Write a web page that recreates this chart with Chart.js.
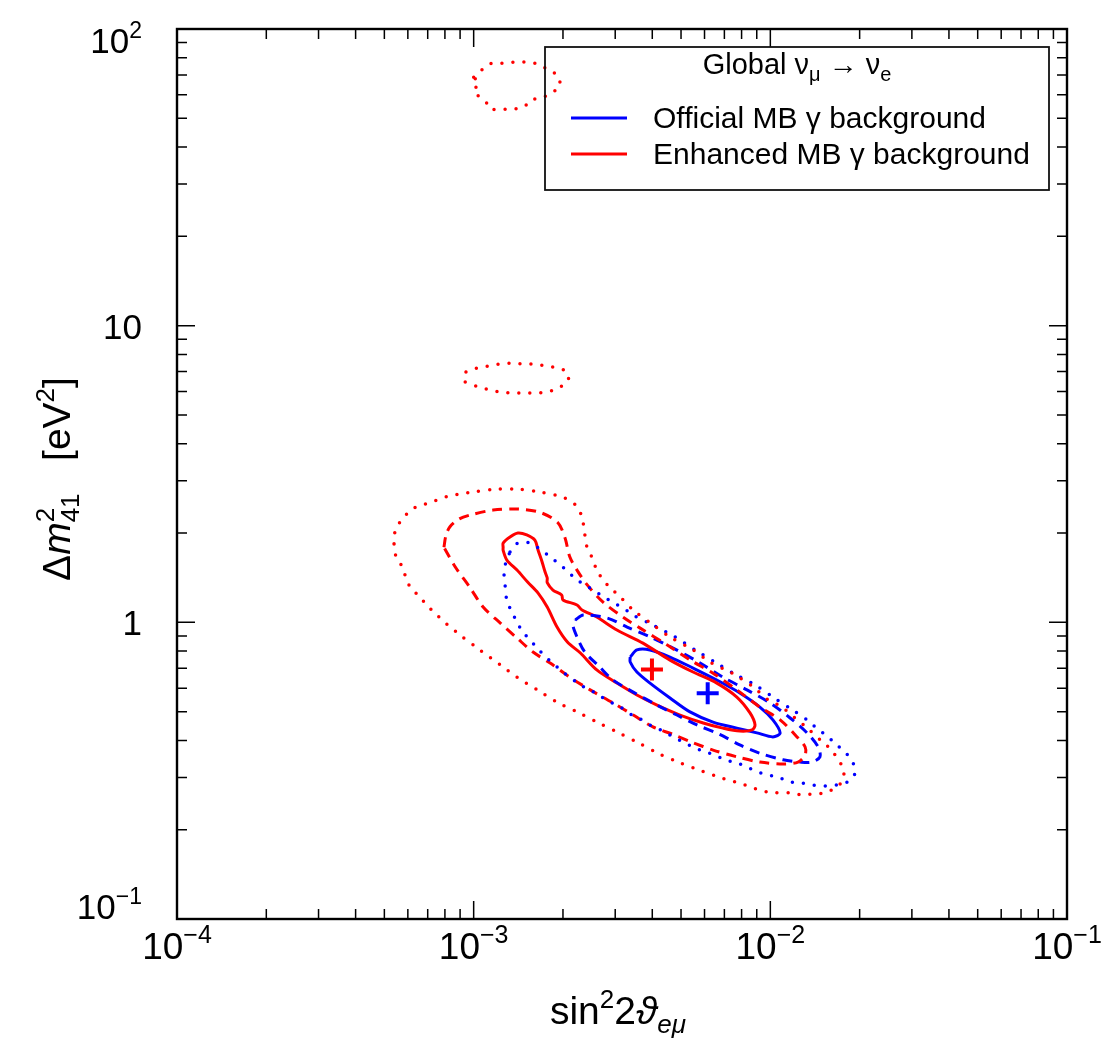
<!DOCTYPE html>
<html>
<head>
<meta charset="utf-8">
<title>Global nu_mu to nu_e</title>
<script src="https://cdn.jsdelivr.net/npm/chart.js@4.4.1/dist/chart.umd.min.js"></script>
<style>
    html, body { margin: 0; padding: 0; background: #fff; }
    #wrap { position: relative; width: 1101px; height: 1057px; }
</style>
</head>
<body>
<div id="wrap"><canvas id="contourChart"></canvas></div>
<script>
// Axis ranges and tick labels
const xTicks = [1e-4, 1e-3, 1e-2, 1e-1];
const xTickText = [['10', '−4'], ['10', '−3'], ['10', '−2'], ['10', '−1']];
const yTicks = [0.1, 1, 10, 100];
const yTickText = [['10', '−1'], ['1', ''], ['10', ''], ['10', '2']];

// Best fit points
const bestFitOfficial = [6.15e-3, 0.577];
const bestFitEnhanced = [3.99e-3, 0.694];

// Official MB gamma background (blue) contours: [sin^2 2theta, dm^2]
const blueSolid = [[3.37e-3, 0.764], [3.55e-3, 0.807], [3.93e-3, 0.807], [4.59e-3, 0.764], [5.49e-3, 0.701],
    [6.60e-3, 0.639], [7.89e-3, 0.578], [9.22e-3, 0.518], [1.02e-2, 0.469], [1.079e-2, 0.424], [1.02e-2, 0.411],
    [9.01e-3, 0.424], [7.71e-3, 0.440], [6.41e-3, 0.461], [5.36e-3, 0.499], [4.59e-3, 0.556], [3.93e-3, 0.624],
    [3.55e-3, 0.680], [3.37e-3, 0.735]];

const blueDashed = [[2.20e-3, 1.018], [2.34e-3, 1.058], [2.82e-3, 1.034], [3.29e-3, 0.964], [3.93e-3, 0.893],
    [4.70e-3, 0.819], [5.80e-3, 0.729], [6.92e-3, 0.653], [8.34e-3, 0.592], [9.97e-3, 0.535], [1.166e-2, 0.476],
    [1.33e-2, 0.424], [1.45e-2, 0.380], [1.47e-2, 0.352], [1.38e-2, 0.338], [1.26e-2, 0.338], [1.104e-2, 0.344],
    [9.22e-3, 0.362], [7.89e-3, 0.386], [6.75e-3, 0.419], [5.66e-3, 0.451], [4.84e-3, 0.487], [4.15e-3, 0.526],
    [3.45e-3, 0.582], [2.95e-3, 0.639], [2.66e-3, 0.707], [2.37e-3, 0.794], [2.23e-3, 0.893], [2.16e-3, 0.979]];

const blueDotted = [[1.326e-3, 1.725], [1.41e-3, 1.85], [1.55e-3, 1.85], [1.67e-3, 1.766], [1.795e-3, 1.673],
    [1.92e-3, 1.585], [2.07e-3, 1.489], [2.21e-3, 1.40], [2.37e-3, 1.336], [2.56e-3, 1.275], [2.75e-3, 1.217],
    [2.97e-3, 1.162], [3.23e-3, 1.109], [3.45e-3, 1.058], [4.02e-3, 0.979], [4.77e-3, 0.893], [5.58e-3, 0.807],
    [6.50e-3, 0.735], [7.59e-3, 0.669], [8.88e-3, 0.615], [1.02e-2, 0.560], [1.19e-2, 0.506], [1.33e-2, 0.469],
    [1.43e-2, 0.440], [1.565e-2, 0.411], [1.69e-2, 0.383], [1.80e-2, 0.362], [1.90e-2, 0.336], [1.93e-2, 0.310],
    [1.82e-2, 0.290], [1.68e-2, 0.283], [1.53e-2, 0.281], [1.39e-2, 0.283], [1.28e-2, 0.287], [1.166e-2, 0.290],
    [1.06e-2, 0.301], [9.83e-3, 0.306], [9.08e-3, 0.313], [8.34e-3, 0.325], [7.71e-3, 0.336], [7.04e-3, 0.344],
    [6.50e-3, 0.357], [6.02e-3, 0.366], [5.49e-3, 0.380], [5.08e-3, 0.395], [4.70e-3, 0.411], [4.35e-3, 0.430],
    [3.99e-3, 0.447], [3.69e-3, 0.469], [3.42e-3, 0.487], [3.16e-3, 0.514], [2.93e-3, 0.535], [2.70e-3, 0.560],
    [2.47e-3, 0.592], [2.29e-3, 0.615], [2.00e-3, 0.680], [1.88e-3, 0.718], [1.75e-3, 0.764], [1.649e-3, 0.813],
    [1.55e-3, 0.872], [1.466e-3, 0.927], [1.40e-3, 1.00], [1.347e-3, 1.083], [1.295e-3, 1.18], [1.276e-3, 1.336],
    [1.266e-3, 1.466], [1.285e-3, 1.597]];

// Enhanced MB gamma background (red) contours
const redSolid = [[1.257e-3, 1.79], [1.257e-3, 1.85], [1.326e-3, 1.94], [1.41e-3, 2.00], [1.51e-3, 1.97],
    [1.61e-3, 1.89], [1.649e-3, 1.75], [1.70e-3, 1.60], [1.74e-3, 1.48], [1.77e-3, 1.41], [1.77e-3, 1.36],
    [1.85e-3, 1.285], [1.98e-3, 1.236], [2.00e-3, 1.19], [2.23e-3, 1.144], [2.32e-3, 1.10], [2.60e-3, 1.042],
    [3.04e-3, 0.942], [3.72e-3, 0.851], [4.59e-3, 0.746], [5.49e-3, 0.680], [6.60e-3, 0.624], [7.71e-3, 0.560],
    [8.54e-3, 0.495], [8.88e-3, 0.451], [8.68e-3, 0.434], [7.89e-3, 0.430], [6.92e-3, 0.440], [5.94e-3, 0.458],
    [4.96e-3, 0.487], [4.15e-3, 0.526], [3.55e-3, 0.569], [3.04e-3, 0.624], [2.60e-3, 0.691], [2.29e-3, 0.788],
    [2.07e-3, 0.858], [1.91e-3, 0.964], [1.77e-3, 1.126], [1.649e-3, 1.255], [1.52e-3, 1.367], [1.40e-3, 1.50],
    [1.294e-3, 1.622], [1.257e-3, 1.75]];

const redDashed = [[7.94e-4, 1.79], [8.07e-4, 1.97], [8.32e-4, 2.10], [8.93e-4, 2.23], [9.72e-4, 2.30],
    [1.163e-3, 2.39], [1.40e-3, 2.41], [1.67e-3, 2.35], [1.92e-3, 2.17], [2.03e-3, 1.93], [2.11e-3, 1.66],
    [2.23e-3, 1.50], [2.41e-3, 1.34], [2.73e-3, 1.17], [3.19e-3, 1.04], [3.64e-3, 0.956], [4.48e-3, 0.840],
    [5.36e-3, 0.747], [6.41e-3, 0.674], [7.71e-3, 0.592], [9.22e-3, 0.518], [1.079e-2, 0.469], [1.23e-2, 0.411],
    [1.31e-2, 0.380], [1.31e-2, 0.357], [1.24e-2, 0.338], [1.104e-2, 0.333], [9.22e-3, 0.338], [7.71e-3, 0.352],
    [6.41e-3, 0.371], [5.49e-3, 0.393], [4.70e-3, 0.419], [4.02e-3, 0.444], [3.45e-3, 0.487], [2.95e-3, 0.535],
    [2.47e-3, 0.592], [2.11e-3, 0.653], [1.81e-3, 0.729], [1.585e-3, 0.794], [1.40e-3, 0.885], [1.23e-3, 0.994],
    [1.076e-3, 1.126], [9.72e-4, 1.31], [8.66e-4, 1.54]];

const redDotted = [[5.39e-4, 1.84], [5.43e-4, 2.02], [5.65e-4, 2.18], [6.01e-4, 2.34], [6.44e-4, 2.46],
    [7.02e-4, 2.52], [7.64e-4, 2.60], [8.32e-4, 2.67], [9.06e-4, 2.71], [9.87e-4, 2.75], [1.20e-3, 2.81],
    [1.41e-3, 2.81], [1.67e-3, 2.75], [2.00e-3, 2.64], [2.20e-3, 2.49], [2.29e-3, 2.34], [2.34e-3, 2.16],
    [2.41e-3, 1.79], [2.51e-3, 1.65], [2.60e-3, 1.50], [2.73e-3, 1.39], [2.88e-3, 1.31], [3.12e-3, 1.217],
    [3.45e-3, 1.10], [3.99e-3, 0.987], [4.59e-3, 0.893], [5.49e-3, 0.807], [6.26e-3, 0.735], [7.43e-3, 0.674],
    [8.75e-3, 0.606], [9.83e-3, 0.548], [1.095e-2, 0.518], [1.21e-2, 0.476], [1.32e-2, 0.444], [1.50e-2, 0.395],
    [1.61e-2, 0.371], [1.69e-2, 0.344], [1.76e-2, 0.323], [1.76e-2, 0.294], [1.67e-2, 0.279], [1.53e-2, 0.266],
    [1.39e-2, 0.264], [1.28e-2, 0.262], [1.166e-2, 0.266], [9.75e-3, 0.268], [8.21e-3, 0.283], [6.92e-3, 0.298],
    [5.89e-3, 0.315], [4.96e-3, 0.336], [4.18e-3, 0.362], [3.58e-3, 0.393], [3.04e-3, 0.427], [2.60e-3, 0.461],
    [2.23e-3, 0.499], [1.91e-3, 0.538], [1.64e-3, 0.592], [1.40e-3, 0.653], [1.23e-3, 0.718], [1.05e-3, 0.807],
    [9.00e-4, 0.906], [8.45e-4, 0.956], [7.88e-4, 1.01], [7.41e-4, 1.075], [6.96e-4, 1.14], [6.54e-4, 1.23],
    [6.15e-4, 1.30], [5.92e-4, 1.41], [5.74e-4, 1.54], [5.47e-4, 1.67]];

const redIslandMid = [[0.942e-3, 6.98], [1.026e-3, 7.20], [1.117e-3, 7.31], [1.217e-3, 7.42], [1.336e-3, 7.48],
    [1.466e-3, 7.42], [1.597e-3, 7.42], [1.753e-3, 7.31], [1.909e-3, 7.20], [2.063e-3, 6.98], [2.079e-3, 6.51],
    [1.924e-3, 6.16], [1.766e-3, 5.97], [1.622e-3, 5.93], [1.477e-3, 5.93], [1.357e-3, 5.93], [1.236e-3, 5.97],
    [1.135e-3, 6.07], [1.042e-3, 6.21], [0.957e-3, 6.41], [0.927e-3, 6.51]];

const redIslandTop = [[1.00e-3, 68.8], [1.075e-3, 73.3], [1.153e-3, 76.7], [1.255e-3, 76.7], [1.378e-3, 77.3],
    [1.501e-3, 77.3], [1.647e-3, 76.2], [1.766e-3, 73.3], [1.909e-3, 69.9], [1.954e-3, 64.2], [1.822e-3, 60.8],
    [1.686e-3, 58.5], [1.548e-3, 57.6], [1.489e-3, 55.0], [1.367e-3, 53.7], [1.246e-3, 53.7], [1.144e-3, 53.7],
    [1.117e-3, 55.8], [1.058e-3, 58.5], [1.00e-3, 61.8], [1.042e-3, 65.7]];

const legendLabels = ['Official MB γ background', 'Enhanced MB γ background'];

const BLUE = '#0000ff';
const RED = '#ff0000';
const FONT = '"Liberation Sans", Arial, Helvetica, sans-serif';

// Build a closed contour dataset
function contour(points, color, style) {
    const data = points.concat([points[0]]).map(p => ({ x: p[0], y: p[1] }));
    return {
        data: data,
        showLine: true,
        fill: false,
        borderColor: color,
        borderWidth: style === 'dotted' ? 3.5 : 3,
        borderDash: style === 'dotted' ? [0, 11] : (style === 'dashed' ? [10, 7] : []),
        borderCapStyle: style === 'dotted' ? 'round' : 'butt',
        borderJoinStyle: 'round',
        pointRadius: 0,
        tension: 0.3
    };
}

function marker(p, color) {
    return {
        data: [{ x: p[0], y: p[1] }],
        showLine: false,
        pointStyle: 'cross',
        pointRadius: 11,
        borderWidth: 4,
        borderColor: color,
        backgroundColor: color
    };
}

function font(size, italic) {
    return (italic ? 'italic ' : '') + size + 'px ' + FONT;
}

// runs: [text, size, raise, italic, noAdvance]
function drawRuns(ctx, runs, x, y, align) {
    let w = 0;
    runs.forEach(r => {
        ctx.font = font(r[1], r[3]);
        if (!r[4]) w += ctx.measureText(r[0]).width;
    });
    let cx = align === 'center' ? x - w / 2 : (align === 'right' ? x - w : x);
    ctx.textAlign = 'left';
    ctx.textBaseline = 'alphabetic';
    runs.forEach(r => {
        ctx.font = font(r[1], r[3]);
        ctx.fillText(r[0], cx, y - r[2]);
        if (!r[4]) cx += ctx.measureText(r[0]).width;
    });
}

// Frame, inward ticks, labels and legend
const framePlugin = {
    id: 'frame',
    afterDraw(chart) {
        const ctx = chart.ctx;
        const a = chart.chartArea;
        const xs = chart.scales.x;
        const ys = chart.scales.y;
        ctx.save();
        ctx.strokeStyle = '#000';
        ctx.fillStyle = '#000';

        // inward ticks on all four sides
        ctx.lineWidth = 1.5;
        for (let e = -4; e <= -1; e++) {
            for (let m = 1; m <= 9; m++) {
                if (e === -1 && m > 1) break;
                const px = xs.getPixelForValue(m * Math.pow(10, e));
                const len = m === 1 ? 18 : 10;
                ctx.beginPath();
                ctx.moveTo(px, a.bottom); ctx.lineTo(px, a.bottom - len);
                ctx.moveTo(px, a.top); ctx.lineTo(px, a.top + len);
                ctx.stroke();
            }
        }
        for (let e = -1; e <= 2; e++) {
            for (let m = 1; m <= 9; m++) {
                if (e === 2 && m > 1) break;
                const py = ys.getPixelForValue(m * Math.pow(10, e));
                const len = m === 1 ? 18 : 10;
                ctx.beginPath();
                ctx.moveTo(a.left, py); ctx.lineTo(a.left + len, py);
                ctx.moveTo(a.right, py); ctx.lineTo(a.right - len, py);
                ctx.stroke();
            }
        }

        ctx.lineWidth = 2.4;
        ctx.strokeRect(a.left, a.top, a.right - a.left, a.bottom - a.top);

        // tick labels
        xTicks.forEach((v, i) => {
            const px = xs.getPixelForValue(v);
            drawRuns(ctx, [[xTickText[i][0], 37, 0], [xTickText[i][1], 25, 16]], px, 959, 'center');
        });
        yTicks.forEach((v, i) => {
            // end labels are kept inside the frame height
            const py = Math.min(Math.max(ys.getPixelForValue(v), a.top + 11), a.bottom - 13);
            const t = yTickText[i];
            const runs = [[t[0], 35, 0]];
            if (t[1]) runs.push([t[1], 23, 15]);
            drawRuns(ctx, runs, 142, py + 13, 'right');
        });

        // axis titles
        drawRuns(ctx, [['sin', 39, 0], ['2', 26, 16], ['2', 39, 0], ['ϑ', 39, 0, true], ['eμ', 26, -9, true]],
            618, 1024, 'center');
        ctx.save();
        ctx.translate(70, 479);
        ctx.rotate(-Math.PI / 2);
        drawRuns(ctx, [['Δ', 39, 0], ['m', 39, 0, true], ['2', 26, 16, false, true], ['41', 26, -9],
            ['   [eV', 39, 0], ['2', 26, 16], [']', 39, 0]], 0, 0, 'center');
        ctx.restore();

        // legend box (no fill, contours stay visible)
        ctx.lineWidth = 1.8;
        ctx.strokeStyle = '#111';
        ctx.strokeRect(545, 47, 504, 143);
        drawRuns(ctx, [['Global ν', 29, 0], ['μ', 20, -7], [' → ν', 29, 0], ['e', 20, -7]], 797, 74, 'center');
        [BLUE, RED].forEach((c, i) => {
            const yy = 118 + i * 36;
            ctx.strokeStyle = c;
            ctx.lineWidth = 3;
            ctx.beginPath();
            ctx.moveTo(571, yy); ctx.lineTo(627, yy);
            ctx.stroke();
            ctx.font = font(30);
            ctx.fillText(legendLabels[i], 653, yy + 10);
        });
        ctx.restore();
    }
};

const ctx = document.getElementById('contourChart').getContext('2d');
const chart = new Chart(ctx, {
    type: 'scatter',
    data: {
        datasets: [
            contour(redIslandTop, RED, 'dotted'),
            contour(redIslandMid, RED, 'dotted'),
            contour(redDotted, RED, 'dotted'),
            contour(blueDotted, BLUE, 'dotted'),
            contour(redDashed, RED, 'dashed'),
            contour(blueDashed, BLUE, 'dashed'),
            contour(redSolid, RED, 'solid'),
            contour(blueSolid, BLUE, 'solid'),
            marker(bestFitEnhanced, RED),
            marker(bestFitOfficial, BLUE)
        ]
    },
    options: {
        responsive: true,
        maintainAspectRatio: false,
        animation: false,
        events: [],
        layout: { padding: { left: 177, right: 34, top: 29, bottom: 138 } },
        plugins: { legend: { display: false }, tooltip: { enabled: false } },
        scales: {
            x: { type: 'logarithmic', min: 1e-4, max: 1e-1, display: false },
            y: { type: 'logarithmic', min: 0.1, max: 100, display: false }
        }
    },
    plugins: [framePlugin]
});
</script>
</body>
</html>
